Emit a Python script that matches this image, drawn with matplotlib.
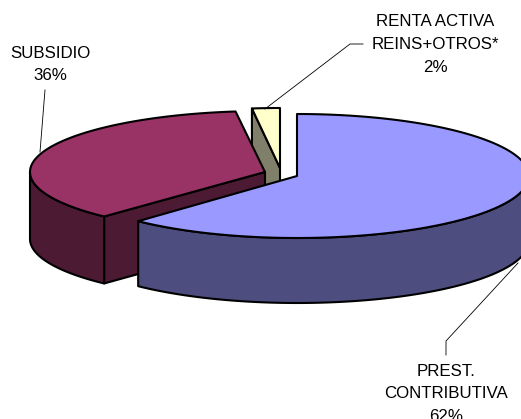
import numpy as np
import matplotlib
matplotlib.use("Agg")
import matplotlib.pyplot as plt
from matplotlib.patches import Polygon

categories = ["PREST.\nCONTRIBUTIVA", "SUBSIDIO", "RENTA ACTIVA\nREINS+OTROS*"]
values = [62, 36, 2]
top_colors = ["#9999FF", "#993366", "#FFFFCC"]
side_colors = ["#4D4D80", "#4D1A33", "#80806A"]

# pie geometry in pixels: apex x, apex y, semi-axes, extrusion depth
geometry = [(297, 176, 232, 62, 65), (265, 172, 235, 61, 67), (280, 168, 224, 60, 65)]
label_pos = [(446, 371), (50, 53), (435, 22)]
leaders = [[(518, 263), (446, 341), (446, 355)],
           [(40, 152), (45, 90)],
           [(265, 109), (350, 44), (363, 44)]]

fig = plt.figure(figsize=(5.21, 4.19), dpi=100)
ax = fig.add_axes([0, 0, 1, 1])
ax.set_xlim(0, 521)
ax.set_ylim(419, 0)
ax.axis("off")

LW = 1.5
edges = np.cumsum([0] + values) / sum(values) * 360.0


def arc(i, t0, t1, drop=0.0, n=120):
    cx, cy, a, b, _ = geometry[i]
    t = np.radians(np.linspace(t0, t1, n))
    return np.column_stack([cx + a * np.sin(t), cy - b * np.cos(t) + drop])


def poly(pts, color, z):
    ax.add_patch(Polygon(pts, closed=True, facecolor=color, edgecolor="black",
                         lw=LW, joinstyle="round", zorder=z))


def wedge(i, z):
    cx, cy, a, b, d = geometry[i]
    t0, t1 = edges[i], edges[i + 1]
    apex = np.array([[cx, cy]])
    apex_low = np.array([[cx, cy + d]])
    # cut face at the slice's start radius
    if i in (1, 2):
        start = arc(i, t0, t0, n=1)
        poly(np.vstack([apex, start, start + [0, d], apex_low]), side_colors[i], z)
    # outer wall: only the part that faces the viewer (90..270 degrees)
    lo, hi = max(t0, 90), min(t1, 270)
    if hi > lo:
        poly(np.vstack([arc(i, lo, hi), arc(i, hi, lo, drop=d)]), side_colors[i], z + 0.1)
    poly(np.vstack([apex, arc(i, t0, t1)]), top_colors[i], z + 0.2)


wedge(2, 2)
wedge(1, 3)
wedge(0, 4)

for pts, (x, y), name, v in zip(leaders, label_pos, categories, values):
    pts = np.array(pts)
    ax.plot(pts[:, 0], pts[:, 1], color="black", lw=0.6, zorder=6)
    lines = name.split("\n") + [f"{v}%"]
    for k, line in enumerate(lines):
        ax.text(x, y + k * 22.6, line, ha="center", va="center",
                family="Liberation Sans", fontsize=12.2, color="black", zorder=7)

fig.savefig("out.png", dpi=100)
